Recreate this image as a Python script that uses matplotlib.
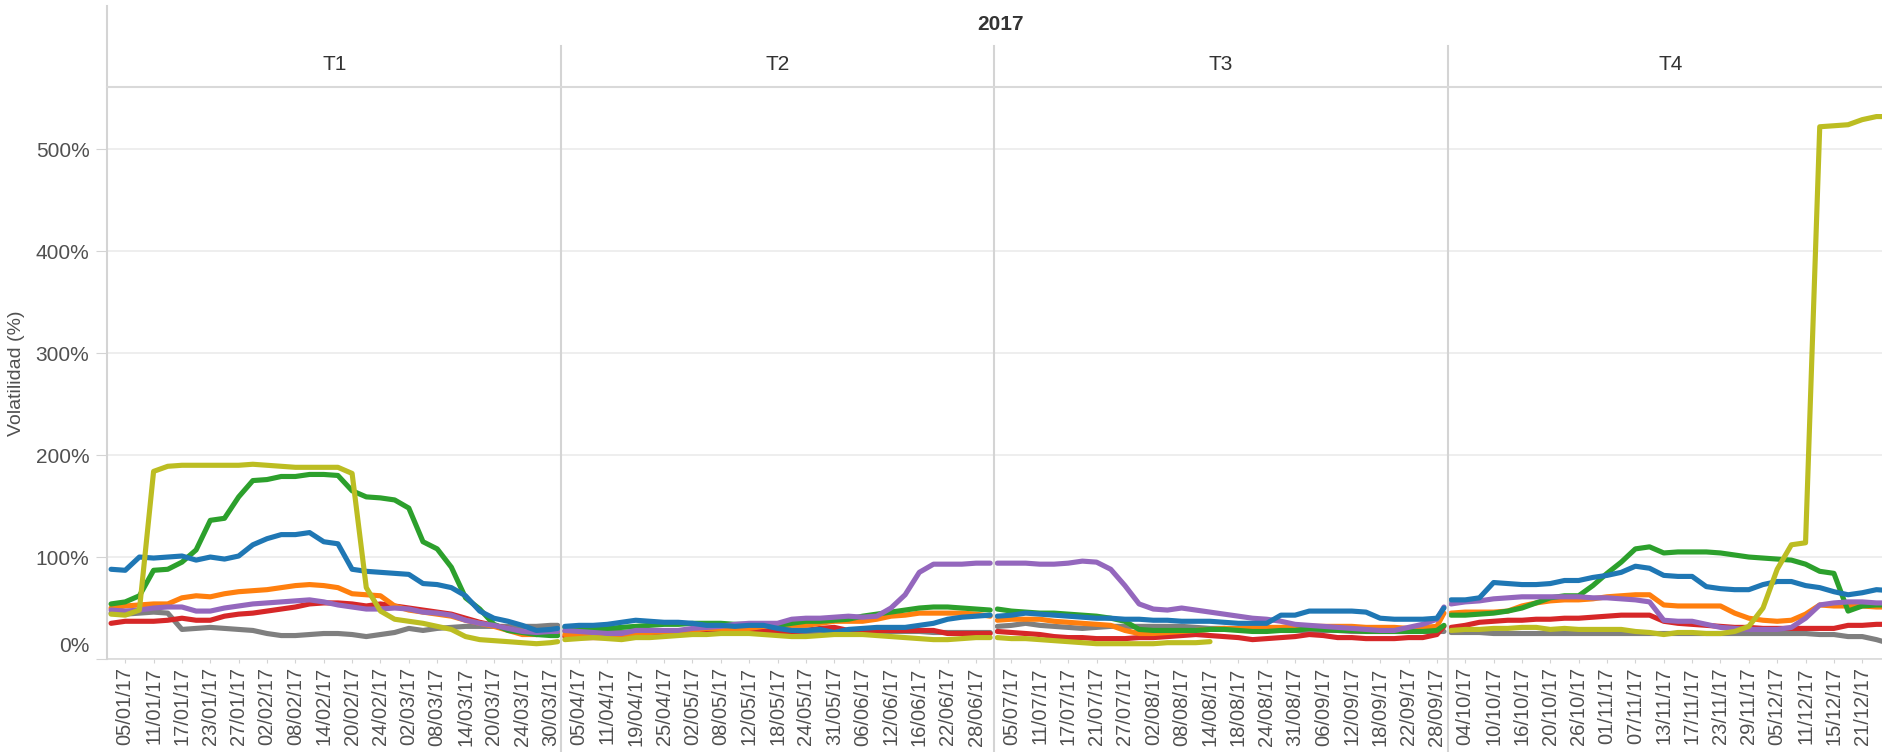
import matplotlib

matplotlib.use('Agg')  # no display
import matplotlib.pyplot as plt
from matplotlib.lines import Line2D
from matplotlib.transforms import ScaledTranslation
import numpy as np
import pandas as pd

plt.rcParams['font.family'] = ['Liberation Sans', 'DejaVu Sans']

# --- data ---------------------------------------------------------------
anio = '2017'
trimestres = ['T1', 'T2', 'T3', 'T4']
festivos = ['2017-01-02', '2017-04-14', '2017-04-17', '2017-05-01',
            '2017-05-29', '2017-08-28', '2017-12-25', '2017-12-26']

# volatility (%) every second trading day of each quarter (+ last day of the quarter)
amarillo = ([44, 43, 48, 184, 189, 190, 190, 190, 190, 190, 191, 190, 189, 188, 188, 188,
             188, 182, 70, 47, 39, 37, 35, 32, 29, 22, 19, 18, 17, 16, 15, 16, 17] +
            [19, 20, 21, 20, 19, 21, 21, 22, 23, 24, 24, 25, 25, 25, 24, 23,
             22, 22, 23, 24, 24, 24, 23, 22, 21, 20, 19, 19, 20, 21, 21] +
            [21, 20, 20, 19, 18, 17, 16, 15, 15, 15, 15, 15, 16, 16, 16, 17] + [np.nan] * 17 +
            [28, 29, 29, 30, 30, 31, 31, 29, 30, 29, 29, 29, 29, 27, 26, 24,
             26, 26, 25, 25, 27, 32, 50, 88, 112, 114, 522, 523, 524, 529, 532, 532])
verde = ([54, 56, 62, 87, 88, 95, 107, 136, 138, 159, 175, 176, 179, 179, 181, 181,
          180, 165, 159, 158, 156, 148, 115, 108, 90, 60, 49, 34, 28, 26, 24, 23, 23] +
         [31, 30, 30, 30, 31, 32, 33, 34, 34, 35, 35, 35, 34, 34, 33, 33,
          35, 37, 37, 38, 39, 42, 44, 46, 48, 50, 51, 51, 50, 49, 48] +
         [49, 47, 46, 45, 45, 44, 43, 42, 40, 37, 29, 28, 28, 28, 28, 29,
          29, 28, 27, 27, 28, 28, 30, 29, 28, 28, 27, 27, 27, 27, 27, 28, 33] +
         [43, 43, 44, 45, 47, 50, 55, 60, 62, 62, 72, 84, 95, 108, 110, 104,
          105, 105, 105, 104, 102, 100, 99, 98, 97, 93, 86, 84, 47, 52, 53, 53])
azul = ([88, 87, 100, 99, 100, 101, 97, 100, 98, 101, 112, 118, 122, 122, 124, 115,
         113, 88, 86, 85, 84, 83, 74, 73, 70, 62, 47, 40, 37, 33, 28, 29, 30] +
        [32, 33, 33, 34, 36, 38, 37, 36, 36, 35, 33, 33, 32, 33, 33, 30,
         28, 28, 29, 26, 29, 30, 31, 31, 31, 33, 35, 39, 41, 42, 43] +
        [42, 43, 45, 44, 43, 42, 41, 40, 40, 39, 39, 38, 38, 37, 37, 37,
         36, 35, 35, 35, 43, 43, 47, 47, 47, 47, 46, 40, 39, 39, 39, 40, 50] +
        [58, 58, 60, 75, 74, 73, 73, 74, 77, 77, 80, 82, 85, 91, 89, 82,
         81, 81, 71, 69, 68, 68, 73, 76, 76, 72, 70, 66, 63, 65, 68, 67])
naranja = ([50, 52, 53, 54, 54, 60, 62, 61, 64, 66, 67, 68, 70, 72, 73, 72,
            70, 64, 63, 62, 52, 48, 46, 44, 42, 38, 35, 32, 28, 24, 24, 25, 25] +
           [24, 23, 22, 22, 23, 25, 26, 27, 27, 28, 30, 30, 29, 30, 32, 32,
            33, 33, 35, 37, 37, 37, 39, 42, 43, 45, 45, 45, 45, 44, 42] +
           [38, 39, 39, 39, 37, 36, 35, 34, 33, 28, 25, 25, 26, 27, 28, 29,
            30, 30, 31, 31, 31, 32, 32, 32, 32, 32, 31, 31, 31, 30, 31, 32, 45] +
           [45, 46, 46, 46, 47, 52, 55, 57, 58, 58, 59, 61, 62, 63, 63, 53,
            52, 52, 52, 52, 45, 40, 38, 37, 38, 44, 53, 52, 52, 52, 51, 51])
rojo = ([35, 37, 37, 37, 38, 40, 38, 38, 42, 44, 45, 47, 49, 51, 54, 55,
         55, 54, 52, 54, 52, 50, 48, 46, 44, 40, 36, 33, 30, 26, 24, 25, 25] +
        [22, 21, 21, 21, 22, 23, 24, 25, 25, 25, 26, 26, 26, 26, 27, 27,
         27, 28, 30, 31, 28, 28, 28, 28, 28, 28, 28, 25, 25, 25, 25] +
        [27, 26, 25, 24, 22, 21, 21, 20, 20, 20, 21, 21, 22, 23, 24, 23,
         22, 21, 19, 20, 21, 22, 24, 23, 21, 21, 20, 20, 20, 21, 21, 24, 32] +
        [31, 33, 36, 37, 38, 38, 39, 39, 40, 40, 41, 42, 43, 43, 43, 37,
         35, 34, 33, 32, 31, 31, 30, 30, 30, 30, 30, 30, 33, 33, 34, 34])
morado = ([48, 47, 48, 50, 51, 51, 47, 47, 50, 52, 54, 55, 56, 57, 58, 56,
           53, 51, 49, 49, 50, 49, 46, 45, 43, 38, 35, 33, 30, 27, 26, 27, 27] +
          [28, 27, 26, 25, 25, 28, 28, 28, 28, 30, 31, 32, 34, 35, 35, 35,
           39, 40, 40, 41, 42, 41, 42, 50, 63, 85, 93, 93, 93, 94, 94] +
          [94, 94, 94, 93, 93, 94, 96, 95, 88, 72, 54, 49, 48, 50, 48, 46,
           44, 42, 40, 39, 37, 34, 33, 32, 31, 30, 29, 28, 28, 31, 34, 39, 51] +
          [54, 56, 57, 59, 60, 61, 61, 61, 61, 61, 60, 60, 59, 58, 56, 38,
           37, 37, 34, 31, 30, 29, 29, 29, 31, 40, 53, 55, 56, 56, 55, 55])
gris = ([45, 44, 45, 46, 45, 29, 30, 31, 30, 29, 28, 25, 23, 23, 24, 25,
         25, 24, 22, 24, 26, 30, 28, 30, 31, 32, 32, 32, 32, 32, 32, 33, 33] +
        [27, 27, 26, 26, 26, 27, 27, 27, 27, 28, 28, 28, 28, 28, 27, 27,
         27, 27, 27, 27, 27, 27, 27, 27, 27, 27, 26, 26, 26, 26, 26] +
        [32, 33, 35, 33, 32, 31, 30, 31, 32, 32, 32, 32, 32, 32, 31, 30,
         30, 29, 29, 29, 28, 28, 28, 28, 28, 27, 27, 27, 27, 27, 27, 27, 27] +
        [26, 26, 26, 25, 25, 25, 25, 25, 25, 25, 25, 25, 25, 25, 25, 25,
         25, 25, 25, 25, 25, 25, 25, 25, 25, 25, 24, 24, 22, 22, 19, 15])

# drawing order: first is at the bottom
series = [(gris, '#7f7f7f'), (rojo, '#d62728'), (naranja, '#ff7f0e'), (verde, '#2ca02c'),
          (morado, '#9467bd'), (azul, '#1f77b4'), (amarillo, '#bcbd22')]

# --- trading calendar --------------------------------------------------------
dias = pd.bdate_range('2017-01-02', '2017-12-31')
dias = dias[~dias.isin(pd.to_datetime(festivos))]

W, H = 1883, 752
px_dia = 7.09
x0_px = 107.5
y_bot, y_top = 659, 87
grid_col = '#d4d4d4'

fig = plt.figure(figsize=(W / 100, H / 100), dpi=100)

offset = 0
pos = 0
for k, nombre in enumerate(trimestres):
    d = dias[dias.quarter == k + 1]
    n = len(d)
    muestras = list(range(0, n, 2))
    if (n - 1) % 2:
        muestras.append(n - 1)
    m = len(muestras)

    left_px = x0_px + offset * px_dia
    left = left_px / W
    ax = fig.add_axes([left, (H - y_bot) / H, n * px_dia / W, (y_bot - y_top) / H])
    for vals, col in series:
        ax.plot(muestras, vals[pos:pos + m], color=col, lw=3.7,
                solid_capstyle='round', solid_joinstyle='round')

    ax.set_xlim(-0.5, n - 0.5)
    ax.set_ylim(0, 561)
    # every 4th trading day, only those that fit inside the picture
    ticks = [i for i in range(2, n, 4) if left_px + (i + 0.5) * px_dia < W - 10]
    ax.set_xticks(ticks)
    ax.set_xticklabels([d[i].strftime('%d/%m/%y') for i in ticks], rotation=90,
                       fontsize=14.5, color='#505050')
    ax.tick_params(axis='x', length=3, color=grid_col, pad=3)
    ax.set_yticks([0, 100, 200, 300, 400, 500])
    ax.yaxis.grid(True, color='#ebebeb', lw=1.2)
    ax.set_axisbelow(True)
    for s in ['top', 'right', 'left']:
        ax.spines[s].set_visible(False)
    ax.spines['bottom'].set_color('#d9d9d9')
    ax.spines['bottom'].set_linewidth(1.2)

    if k == 0:
        ax.set_yticklabels(['0%', '100%', '200%', '300%', '400%', '500%'],
                           fontsize=15, color='#505050')
        ax.tick_params(axis='y', length=8, color=grid_col, pad=5)
        # Tableau lifts the lowest label inside the pane
        lbl = ax.get_yticklabels()[0]
        lbl.set_transform(lbl.get_transform() + ScaledTranslation(0, 0.15, fig.dpi_scale_trans))
        fig.add_artist(Line2D([x0_px / W] * 2, [1 - 6 / H, 1 - y_bot / H],
                              color=grid_col, lw=1.5))
    else:
        ax.tick_params(axis='y', left=False, labelleft=False)
        fig.add_artist(Line2D([left] * 2, [0, 1 - 46 / H], color=grid_col, lw=1.5))

    cx = (x0_px + (offset + n / 2) * px_dia) / W
    fig.text(cx, 1 - 64 / H, nombre, ha='center', va='center', fontsize=15, color='#333333')

    offset += n
    pos += m

fig.add_artist(Line2D([x0_px / W, 1], [1 - y_top / H] * 2, color='#d9d9d9', lw=1.5))
fig.text((x0_px + offset * px_dia / 2) / W, 1 - 24 / H, anio, ha='center', va='center',
         fontsize=15, fontweight='bold', color='#333333')
fig.text(17 / W, 1 - 373 / H, 'Volatilidad (%)', rotation=90, ha='center', va='center',
         fontsize=14, color='#505050')

fig.savefig('out.png', dpi=100)
